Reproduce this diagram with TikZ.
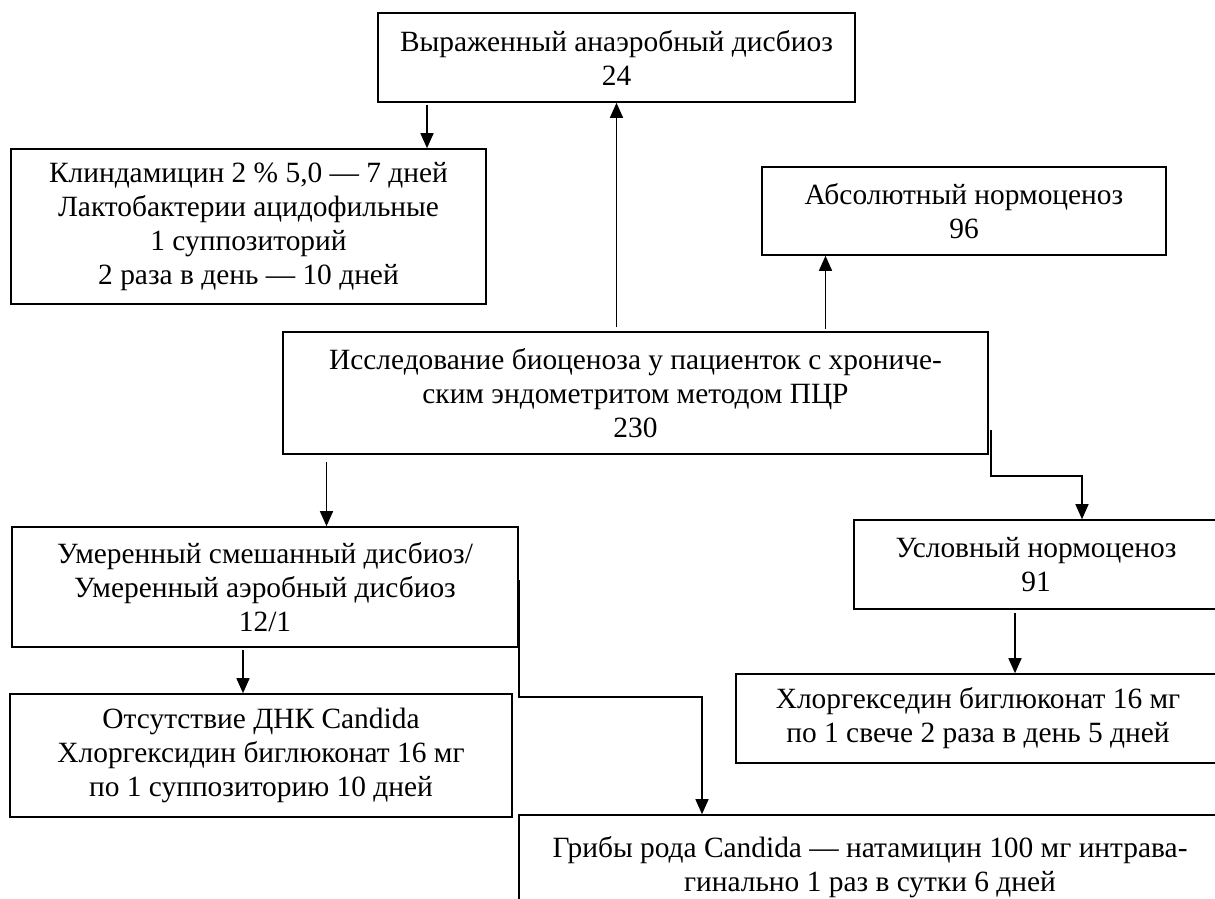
\documentclass[tikz,border=0pt]{standalone}
\usepackage{fontspec}
\setmainfont{Liberation Serif}
\usepackage{tikz}
\usetikzlibrary{arrows.meta}

\begin{document}
\begin{tikzpicture}[x=1pt,y=-1pt,
      box/.style={draw,line width=1.6pt,align=center,inner sep=0pt,font=\fontsize{29.4}{34}\selectfont},
      arr/.style={-{Triangle[length=15pt,width=13pt]},line width=1.4pt}
    ]
      \useasboundingbox[fill=white] (0,0) rectangle (1215,899);
      \node[box,minimum width=477pt,minimum height=89pt] (vyrazh) at (616.5,57.5) {Выраженный анаэробный дисбиоз\\24};
      \node[box,minimum width=475pt,minimum height=155pt] (klind) at (248.5,226.5) {Клиндамицин 2 \% 5,0 — 7 дней\\Лактобактерии ацидофильные\\1 суппозиторий\\2 раза в день — 10 дней};
      \node[box,minimum width=404pt,minimum height=88pt] (absol) at (964,211) {Абсолютный нормоценоз\\96};
      \node[box,minimum width=705pt,minimum height=122pt] (issled) at (635.5,393) {Исследование биоценоза у пациенток с хрониче-\\ским эндометритом методом ПЦР\\230};
      \node[box,minimum width=506pt,minimum height=120pt] (umeren) at (265,587) {Умеренный смешанный дисбиоз/\\Умеренный аэробный дисбиоз\\12/1};
      \node[box,minimum width=364pt,minimum height=89pt] (uslov) at (1036,564.5) {Условный нормоценоз\\91};
      \node[box,minimum width=502pt,minimum height=123pt] (otsutst) at (261,755.5) {Отсутствие ДНК Candida\\Хлоргексидин биглюконат 16 мг\\по 1 суппозиторию 10 дней};
      \node[box,minimum width=484pt,minimum height=89pt] (hlorg) at (978,718.5) {Хлоргекседин биглюконат 16 мг\\по 1 свече 2 раза в день 5 дней};
      \node[box,minimum width=702pt,minimum height=104pt] (griby) at (870,867) {Грибы рода Candida — натамицин 100 мг интрава-\\гинально 1 раз в сутки 6 дней};
      \draw[arr,shorten <=2pt] ([xshift=-189.5pt]vyrazh.south) -- ([xshift=-189.5pt]vyrazh.south |- klind.north);
      \draw[arr,shorten <=4pt] ([xshift=-19pt]issled.north) -- ([xshift=-19pt]issled.north |- vyrazh.south);
      \draw[arr,shorten <=2pt] ([xshift=190pt]issled.north) -- ([xshift=190pt]issled.north |- absol.south);
      \draw[arr,shorten <=7pt] ([xshift=-309pt]issled.south) -- ([xshift=-309pt]issled.south |- umeren.north);
      \draw[arr] ([xshift=2pt,yshift=-37pt]issled.east) -- ([xshift=2pt,yshift=-83pt]issled.east) -| ([xshift=46pt]uslov.north);
      \draw[arr,shorten <=2pt] ([xshift=-22pt]umeren.south) -- ([xshift=-22pt]umeren.south |- otsutst.north);
      \draw[arr] ([yshift=7pt]umeren.east) -- ([yshift=-110pt]umeren.east) -| ([xshift=-168pt]griby.north);
      \draw[arr,shorten <=3pt] ([xshift=-21pt]uslov.south) -- ([xshift=-21pt]uslov.south |- hlorg.north);
    \end{tikzpicture}
\end{document}
